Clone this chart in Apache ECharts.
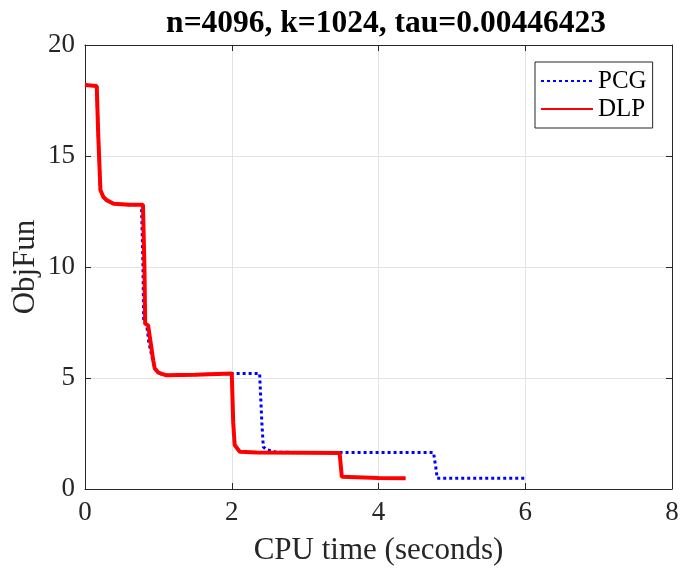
<!DOCTYPE html>
<html>
<head>
<meta charset="utf-8">
<script src="https://cdn.jsdelivr.net/npm/echarts@6/dist/echarts.min.js"></script>
<style>html,body{margin:0;padding:0;background:#fff}#c{width:680px;height:573px}</style>
</head>
<body>
<div id="c"></div>
<script>
const titleText = 'n=4096, k=1024, tau=0.00446423';
const xTicks = [0, 2, 4, 6, 8];
const yTicks = [0, 5, 10, 15, 20];
const seriesNames = ['PCG', 'DLP'];

const pcgX = [0, 0.16, 0.18, 0.21, 0.25, 0.3, 0.39, 0.6, 0.77, 0.79, 0.8, 0.84, 0.87, 0.93, 0.98, 1.05, 1.11, 1.5, 2.0, 2.38, 2.41, 2.43, 2.47, 2.61, 3.0, 4.0, 4.75, 4.78, 4.8, 5.5, 6.0];
const pcgY = [18.2, 18.15, 16.0, 13.47, 13.15, 13.0, 12.85, 12.8, 12.8, 10.0, 7.5, 7.4, 6.6, 5.7, 5.28, 5.15, 5.12, 5.15, 5.2, 5.2, 3.0, 1.9, 1.78, 1.66, 1.64, 1.64, 1.64, 1.0, 0.48, 0.48, 0.48];

const dlpX = [0, 0.16, 0.18, 0.21, 0.25, 0.3, 0.39, 0.6, 0.79, 0.81, 0.82, 0.86, 0.93, 0.95, 1.0, 1.11, 1.5, 2.0, 2.02, 2.04, 2.11, 2.34, 3.0, 3.47, 3.5, 4.0, 4.37];
const dlpY = [18.2, 18.15, 16.0, 13.47, 13.15, 13.0, 12.85, 12.8, 12.8, 10.0, 7.45, 7.37, 5.8, 5.43, 5.24, 5.12, 5.15, 5.2, 3.0, 1.98, 1.68, 1.64, 1.63, 1.62, 0.55, 0.5, 0.48];

const zip = (xs, ys) => xs.map((x, i) => [x, ys[i]]);
const axisColor = '#262626';
const font = "'Liberation Serif', 'Times New Roman', serif";

const chart = echarts.init(document.getElementById('c'), null, {renderer: 'canvas'});
const baseX = {
  type: 'value', min: xTicks[0], max: xTicks[xTicks.length - 1], interval: 2,
  axisLine: {show: true, onZero: false, lineStyle: {color: axisColor, width: 1}},
  axisTick: {show: true, inside: true, length: 6, lineStyle: {color: axisColor}},
  splitLine: {show: false}
};
const baseY = {
  type: 'value', min: yTicks[0], max: yTicks[yTicks.length - 1], interval: 5,
  axisLine: {show: true, onZero: false, lineStyle: {color: axisColor, width: 1}},
  axisTick: {show: true, inside: true, length: 6, lineStyle: {color: axisColor}},
  splitLine: {show: false}
};
chart.setOption({
  animation: false,
  backgroundColor: '#ffffff',
  textStyle: {fontFamily: font},
  title: {
    text: titleText, left: 381, top: 3, textAlign: 'center',
    textStyle: {fontFamily: font, fontWeight: 'bold', fontSize: 31.5, color: '#000'}
  },
  grid: {left: 85, right: 8, top: 45, bottom: 84, containLabel: false, outerBoundsMode: 'none'},
  legend: {
    data: [
      {name: seriesNames[0]},
      {name: seriesNames[1]}
    ],
    orient: 'vertical', left: 535, top: 62,
    padding: [5, 6, 5, 5], itemGap: 0, itemWidth: 52, itemHeight: 14,
    borderColor: axisColor, borderWidth: 1, backgroundColor: '#fff',
    itemStyle: {opacity: 0},
    textStyle: {fontFamily: font, fontSize: 25, color: '#000', lineHeight: 28}
  },
  xAxis: [
    Object.assign({}, baseX, {
      position: 'bottom',
      splitLine: {show: true, lineStyle: {color: '#e3e3e3', width: 1}},
      axisLabel: {fontFamily: font, fontSize: 27, color: axisColor, margin: 10},
      name: 'CPU time (seconds)', nameLocation: 'middle', nameGap: 46, nameMoveOverlap: false,
      nameTextStyle: {fontFamily: font, fontSize: 31, color: axisColor}
    }),
    Object.assign({}, baseX, {position: 'top', axisLabel: {show: false}})
  ],
  yAxis: [
    Object.assign({}, baseY, {
      position: 'left',
      splitLine: {show: true, lineStyle: {color: '#e3e3e3', width: 1}},
      axisLabel: {fontFamily: font, fontSize: 27, color: axisColor, margin: 10},
      name: 'ObjFun', nameLocation: 'middle', nameGap: 44, nameMoveOverlap: false,
      nameTextStyle: {fontFamily: font, fontSize: 31, color: axisColor}
    }),
    Object.assign({}, baseY, {position: 'right', axisLabel: {show: false}})
  ],
  series: [
    {
      name: seriesNames[0], type: 'line', data: zip(pcgX, pcgY),
      symbol: 'none', showSymbol: false, z: 2,
      lineStyle: {color: '#0000ff', width: 3, type: [3, 3]},
      itemStyle: {color: '#0000ff'}
    },
    {
      name: seriesNames[1], type: 'line', data: zip(dlpX, dlpY),
      symbol: 'none', showSymbol: false, z: 3,
      lineStyle: {color: '#ff0000', width: 4},
      itemStyle: {color: '#ff0000'}
    }
  ]
});
</script>
</body>
</html>
